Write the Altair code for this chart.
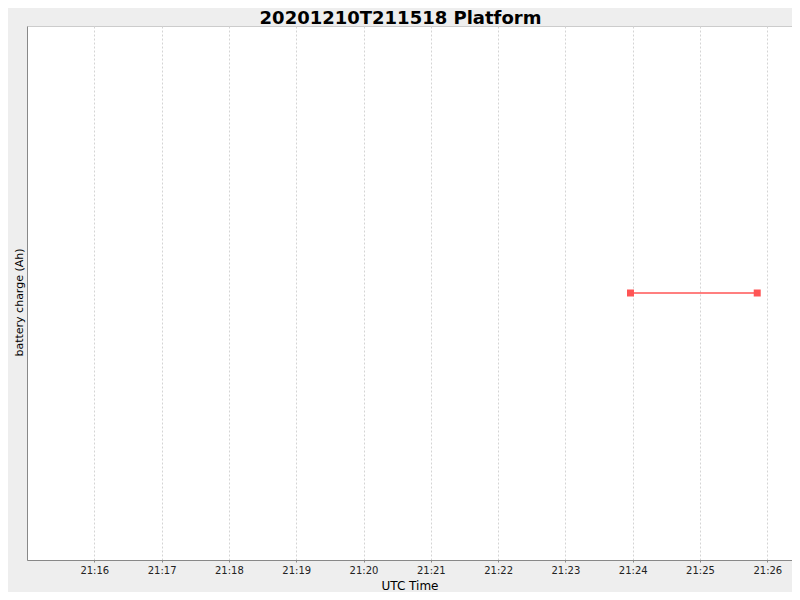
import altair as alt
import pandas as pd

# data
times = ["2020-12-10T21:23:58Z", "2020-12-10T21:25:51Z"]
charge = [0.0, 0.0]
tick_minutes = [16, 17, 18, 19, 20, 21, 22, 23, 24, 25, 26]

df = pd.DataFrame({"time": times, "charge": charge})

FONT = "DejaVu Sans"

x_enc = alt.X(
    "time:T",
    title="UTC Time",
    scale=alt.Scale(
        type="utc",
        domain=[
            alt.DateTime(year=2020, month=12, date=10, hours=21, minutes=15, seconds=0, utc=True),
            alt.DateTime(year=2020, month=12, date=10, hours=21, minutes=26, seconds=22, utc=True),
        ],
    ),
    axis=alt.Axis(
        values=[alt.DateTime(year=2020, month=12, date=10, hours=21, minutes=m, utc=True) for m in tick_minutes],
        labelExpr="utcFormat(datum.value, '%H:%M')",
        grid=True,
        gridColor="#d4d4d4",
        gridDash=[2, 2],
        gridWidth=1,
        domainColor="#888888",
        tickColor="#888888",
        tickSize=2,
        labelPadding=3,
        labelFont=FONT,
        labelFontSize=10,
        labelColor="#222222",
        titleFont=FONT,
        titleFontSize=12,
        titleFontWeight="normal",
        titleColor="#000000",
        titlePadding=5,
        labelFlush=False,
    ),
)
y_enc = alt.Y(
    "charge:Q",
    title="battery charge (Ah)",
    scale=alt.Scale(domain=[-1, 1]),
    axis=alt.Axis(
        labels=False,
        ticks=False,
        grid=False,
        domainColor="#888888",
        titleFont=FONT,
        titleFontSize=11,
        titleFontWeight="normal",
        titleColor="#000000",
        titlePadding=3,
        titleY=276,
    ),
)

base = alt.Chart(df).encode(x=x_enc, y=y_enc)
line = base.mark_line(color="#FF5555", strokeWidth=1.3)
pts = base.mark_point(shape="square", filled=True, size=49, color="#FF5555", opacity=1)

chart = (
    alt.layer(line, pts)
    .properties(
        width=765,
        height=534,
        background="#EEEEEE",
        padding={"left": 19, "top": 18, "right": 0, "bottom": 32},
        autosize=alt.AutoSizeParams(type="none"),
        title=alt.Title(
            "20201210T211518 Platform",
            font=FONT,
            fontSize=18,
            fontWeight="bold",
            color="#000000",
            anchor="middle",
            baseline="alphabetic",
            offset=-16,
            dx=-9,
        ),
    )
    .configure_view(fill="#FFFFFF", stroke="#cccccc", strokeWidth=1)
)

chart.save("out.html", embed_options={"renderer": "svg", "actions": False})
